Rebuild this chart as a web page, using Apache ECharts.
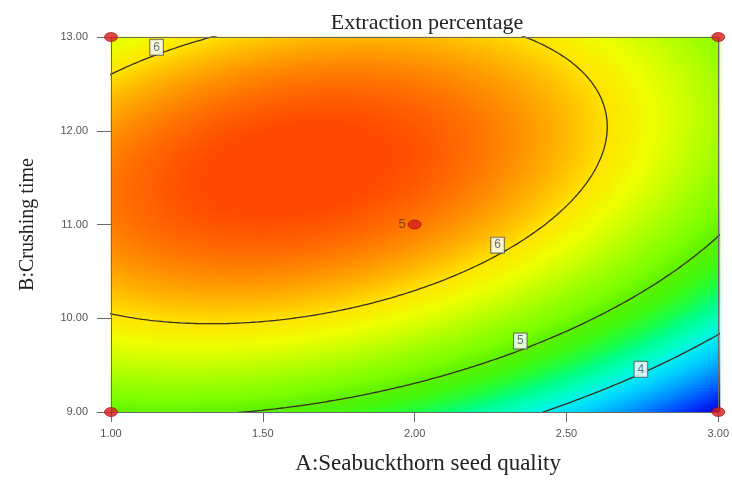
<!DOCTYPE html>
<html>
<head>
<meta charset="utf-8">
<script src="https://cdn.jsdelivr.net/npm/echarts@6/dist/echarts.min.js"></script>
<style>
  html, body { margin: 0; padding: 0; background: #ffffff; }
  #chart { width: 732px; height: 481px; }
</style>
</head>
<body>
<div id="chart"></div>
<script>
// Quadratic response-surface model in coded factors (-1 .. +1):
// Y = b0 + bA*A + bB*B + bAB*A*B + bAA*A^2 + bBB*B^2
const termNames = ['Intercept', 'A', 'B', 'AB', 'A^2', 'B^2'];
const codedCoefficients = [6.405, -0.656, 0.787, 0.452, -0.668, -1.030];

// Factor ranges in actual units
const rangeA = [1.00, 3.00];   // A: Seabuckthorn seed quality
const rangeB = [9.00, 13.00];  // B: Crushing time

// Axis tick values
const ticksA = [1.00, 1.50, 2.00, 2.50, 3.00];
const ticksB = [9.00, 10.00, 11.00, 12.00, 13.00];

// Contour levels and where their labels sit
const contourLevels = [6, 5, 4];
const labelLevels = [6, 6, 5, 4];
const labelA = [1.15, 2.273, 2.348, 2.745];
const labelB = [12.89, 10.78, 9.757, 9.455];

// Design points (factorial corners + replicated centre point)
const designA = [1, 1, 3, 3, 2];
const designB = [9, 13, 9, 13, 11];
const designReps = [1, 1, 1, 1, 5];

const midA = (rangeA[0] + rangeA[1]) / 2, halfA = (rangeA[1] - rangeA[0]) / 2;
const midB = (rangeB[0] + rangeB[1]) / 2, halfB = (rangeB[1] - rangeB[0]) / 2;
const [b0, bA, bB, bAB, bAA, bBB] = codedCoefficients;

function response(A, B) {
  const x = (A - midA) / halfA, y = (B - midB) / halfB;
  return b0 + bA * x + bB * y + bAB * x * y + bAA * x * x + bBB * y * y;
}

// Evaluate the surface on a grid of 3 px cells
const NX = 203, NY = 125;
const cellA = [], cellB = [], heat = [];
for (let i = 0; i < NX; i++) cellA.push(rangeA[0] + (i + 0.5) * (rangeA[1] - rangeA[0]) / NX);
for (let j = 0; j < NY; j++) cellB.push(rangeB[0] + (j + 0.5) * (rangeB[1] - rangeB[0]) / NY);
for (let i = 0; i < NX; i++) {
  for (let j = 0; j < NY; j++) heat.push([i, j, response(cellA[i], cellB[j])]);
}

// Stationary point of the quadratic; every contour is an ellipse around it
const det = 4 * bAA * bBB - bAB * bAB;
const x0 = (-2 * bA * bBB + bB * bAB) / det;
const y0 = (-2 * bAA * bB + bAB * bA) / det;
const fMax = b0 + (bA * x0 + bB * y0) / 2;

function contourPath(level) {
  const pts = [];
  const N = 1440;
  for (let k = 0; k <= N; k++) {
    const t = 2 * Math.PI * k / N;
    const c = Math.cos(t), s = Math.sin(t);
    const q = bAA * c * c + bBB * s * s + bAB * c * s;
    const r = Math.sqrt((level - fMax) / q);
    const x = x0 + r * c, y = y0 + r * s;
    pts.push([midA + halfA * x, midB + halfB * y]);
  }
  return pts;
}

const rampColors = [
  '#0000d6', '#0020ee', '#004cff', '#007cff', '#00a8ff', '#00d0ff', '#00f0f0',
  '#00ffc0', '#00ff88', '#1eff44', '#40fa10', '#5cf000', '#7cff00', '#9cff00',
  '#c4ff00', '#eeff00', '#ffe400', '#ffb000', '#ff7c00', '#ff4800'
];

const plotGrid = { left: 111, right: 12, top: 37, bottom: 69 };
const serif = 'Liberation Serif';
const sans = 'Liberation Sans';

const contourSeries = contourLevels.map(level => ({
  type: 'line',
  xAxisIndex: 1, yAxisIndex: 1,
  data: contourPath(level),
  showSymbol: false,
  symbol: 'none',
  clip: true,
  silent: true,
  z: 5,
  lineStyle: { color: '#353020', width: 1.3 }
}));

const option = {
  animation: false,
  title: {
    text: 'Extraction percentage',
    left: 422, top: 7, textAlign: 'center',
    textStyle: { fontFamily: serif, fontSize: 22, fontWeight: 'normal', color: '#222' }
  },
  grid: [
    Object.assign({}, plotGrid),
    Object.assign({}, plotGrid)
  ],
  visualMap: {
    type: 'continuous', show: false, seriesIndex: 0, dimension: 2,
    min: 2.8, max: 6.6,
    inRange: { color: rampColors }
  },
  xAxis: [
    { gridIndex: 0, type: 'category', data: cellA, show: false },
    {
      gridIndex: 1, type: 'value', min: ticksA[0], max: ticksA[ticksA.length - 1],
      interval: ticksA[1] - ticksA[0], position: 'bottom', z: 10,
      axisLine: { show: true, lineStyle: { color: '#6a6a6a', width: 1 } },
      axisTick: { show: true, length: 10, lineStyle: { color: '#6a6a6a' } },
      axisLabel: {
        margin: 16, showMinLabel: true, showMaxLabel: true,
        formatter: v => v.toFixed(2),
        fontFamily: sans, fontSize: 11, color: '#555'
      },
      splitLine: { show: false },
      name: 'A:Seabuckthorn seed quality', nameLocation: 'middle', nameGap: 40,
      nameTextStyle: { fontFamily: serif, fontSize: 23, color: '#222', padding: [0, 0, 0, 27] }
    },
    {
      gridIndex: 1, type: 'value', min: ticksA[0], max: ticksA[ticksA.length - 1],
      position: 'top', z: 10,
      axisLine: { show: true, lineStyle: { color: '#6a6a6a', width: 1 } },
      axisTick: { show: false }, axisLabel: { show: false }, splitLine: { show: false }
    }
  ],
  yAxis: [
    { gridIndex: 0, type: 'category', data: cellB, show: false },
    {
      gridIndex: 1, type: 'value', min: ticksB[0], max: ticksB[ticksB.length - 1],
      interval: ticksB[1] - ticksB[0], position: 'left', z: 10,
      axisLine: { show: true, lineStyle: { color: '#6a6a6a', width: 1 } },
      axisTick: { show: true, length: 14, lineStyle: { color: '#6a6a6a' } },
      axisLabel: {
        margin: 23, showMinLabel: true, showMaxLabel: true,
        formatter: v => v.toFixed(2),
        fontFamily: sans, fontSize: 11, color: '#555'
      },
      splitLine: { show: false },
      name: 'B:Crushing time', nameLocation: 'middle', nameGap: 73,
      nameTextStyle: { fontFamily: serif, fontSize: 20, color: '#222' }
    },
    {
      gridIndex: 1, type: 'value', min: ticksB[0], max: ticksB[ticksB.length - 1],
      position: 'right', z: 10,
      axisLine: { show: true, lineStyle: { color: '#6a6a6a', width: 1 } },
      axisTick: { show: false }, axisLabel: { show: false }, splitLine: { show: false }
    }
  ],
  series: [
    {
      type: 'heatmap',
      xAxisIndex: 0, yAxisIndex: 0,
      data: heat,
      progressive: 0,
      silent: true,
      emphasis: { disabled: true },
      z: 1
    },
    ...contourSeries,
    {
      type: 'scatter',
      xAxisIndex: 1, yAxisIndex: 1,
      data: labelLevels.map((lv, k) => [labelA[k], labelB[k], lv]),
      symbol: 'rect', symbolSize: 1,
      itemStyle: { color: 'rgba(0,0,0,0)' },
      clip: false, silent: true, z: 8,
      label: {
        show: true, position: 'inside',
        formatter: p => String(labelLevels[p.dataIndex]),
        fontFamily: sans, fontSize: 12, color: '#3f4f7a',
        backgroundColor: '#ffffff', borderColor: '#555', borderWidth: 1,
        padding: [2, 3, 1, 3]
      }
    },
    {
      type: 'scatter',
      xAxisIndex: 1, yAxisIndex: 1,
      data: designA.map((a, k) => [a, designB[k], designReps[k]]),
      symbol: 'circle', symbolSize: [13, 9],
      clip: false, silent: true, z: 20,
      itemStyle: { color: '#d91c1c', borderColor: '#9e1010', borderWidth: 0.8 },
      label: {
        show: true, position: 'left', distance: 2,
        formatter: p => (designReps[p.dataIndex] > 1 ? String(designReps[p.dataIndex]) : ''),
        fontFamily: sans, fontSize: 13, color: '#5e3418'
      }
    }
  ]
};

const chart = echarts.init(document.getElementById('chart'), null, { renderer: 'canvas' });
chart.setOption(option);
</script>
</body>
</html>
